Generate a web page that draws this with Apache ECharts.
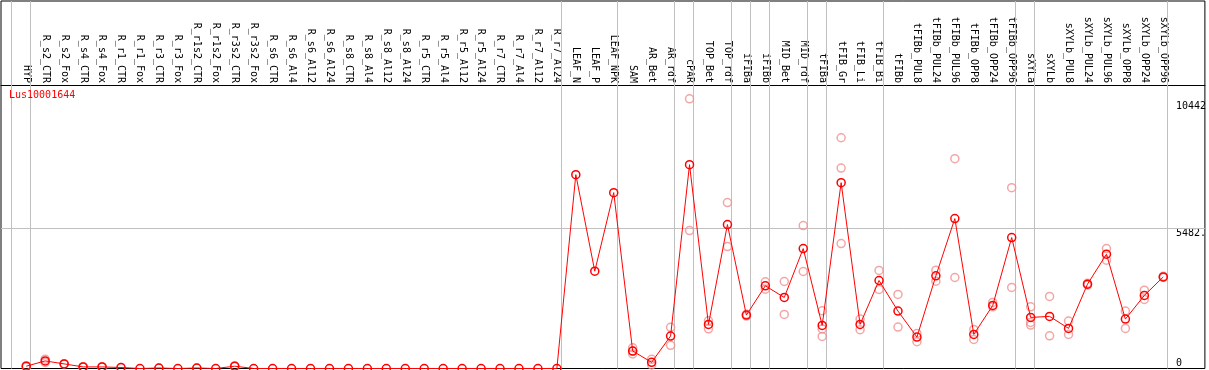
<!DOCTYPE html>
<html>
<head>
<meta charset="utf-8">
<script src="https://cdn.jsdelivr.net/npm/echarts@6/dist/echarts.min.js"></script>
<style>
  html, body { margin: 0; padding: 0; background: #fff; }
  #chart { width: 1209px; height: 370px; }
</style>
</head>
<body>
<div id="chart"></div>
<script>
const categories = [
  'HYP', 'R_s2_CTR', 'R_s2_Fox', 'R_s4_CTR', 'R_s4_Fox', 'R_r1_CTR', 'R_r1_Fox', 'R_r3_CTR', 'R_r3_Fox',
  'R_r1s2_CTR', 'R_r1s2_Fox', 'R_r3s2_CTR', 'R_r3s2_Fox', 'R_s6_CTR', 'R_s6_Al4', 'R_s6_Al12', 'R_s6_Al24',
  'R_s8_CTR', 'R_s8_Al4', 'R_s8_Al12', 'R_s8_Al24', 'R_r5_CTR', 'R_r5_Al4', 'R_r5_Al12', 'R_r5_Al24',
  'R_r7_CTR', 'R_r7_Al4', 'R_r7_Al12', 'R_r7_Al24', 'LEAF_N', 'LEAF_P', 'LEAF_NPK', 'SAM', 'AR_Bet', 'AR_rdf',
  'cPAR', 'TOP_Bet', 'TOP_rdf', 'iFIBa', 'iFIBb', 'MID_Bet', 'MID_rdf', 'tFIBa', 'tFIB_Gr', 'tFIB_Li', 'tFIB_Bi',
  'tFIBb', 'tFIBb_PUL8', 'tFIBb_PUL24', 'tFIBb_PUL96', 'tFIBb_OPP8', 'tFIBb_OPP24', 'tFIBb_OPP96',
  'sXYLa', 'sXYLb', 'sXYLb_PUL8', 'sXYLb_PUL24', 'sXYLb_PUL96', 'sXYLb_OPP8', 'sXYLb_OPP24', 'sXYLb_OPP96'
]

// mean per sample
const meanValues = [
  90, 296, 180, 62, 62, 39, 0, 20, 0, 20, 0, 90, 0, 0, 0, 0, 0,
  0, 0, 0, 0, 0, 0, 0, 0, 0, 0, 0, 0, 7574, 3803, 6872, 683, 242, 1268,
  7964, 1723, 5624, 2087, 3230, 2776, 4686, 1685, 7262, 1723, 3439,
  2243, 1229, 3620, 5857, 1333, 2464, 5117,
  1996, 2036, 1567, 3295, 4465, 1930, 2855, 3580
]

// replicates per sample (light circles)
const repValues = [
  [70, 110], [363, 234], [175, 185], [55, 70], [55, 70], [39], [], [20], [], [20], [], [85, 95], [], [], [], [], [],
  [], [], [], [], [], [], [], [], [], [], [], [], [], [], [], [811, 566, 683], [359, 137], [1607, 905],
  [10538, 5390], [1865, 1552], [6482, 4766], [2120, 2050], [3386, 3100], [3400, 2113], [5585, 3790],
  [2256, 1255, 1545], [9017, 7833, 4882], [1930, 1514], [3830, 3088],
  [2893, 1619], [1372, 1046], [3841, 3412], [8197, 3556], [1528, 1138], [2581, 2411], [7066, 3166],
  [2411, 1802, 1696], [2816, 1279], [1852, 1333], [3330, 3260], [4686, 4231], [2243, 1567], [3061, 2699], [3600, 3560]
]

// last sample index of each group (separator lines)
const groupEnds = [-1, 0, 28, 31, 34, 35, 37, 38, 39, 41, 42, 45, 52, 53, 60]

const yTickValues = [0, 5482, 10442]
const yTickLabels = ['0', '5482.', '10442']
const gridValue = 5482

const mono = 'DejaVu Sans Mono'

let meanData = meanValues.map((v, i) => [i, v])
let repData = []
repValues.forEach((reps, i) => {
  reps.forEach((v) => {
    repData.push([i, v])
  })
})

let yLabel = function (value) {
  let idx = yTickValues.indexOf(value)
  return idx >= 0 ? yTickLabels[idx] : ''
}

let myChart = echarts.init(document.getElementById('chart'))
myChart.setOption({
  animation: false,
  backgroundColor: '#fff',
  title: {
    text: 'Lus10001644',
    left: 9,
    top: 90,
    padding: 0,
    textStyle: {
      color: '#ff0000',
      fontFamily: mono,
      fontSize: 10,
      fontWeight: 'normal',
    },
  },
  grid: {
    left: 1,
    right: 1,
    top: 1,
    bottom: 1.5,
    show: true,
    borderColor: '#000',
    borderWidth: 1,
    backgroundColor: 'transparent',
  },
  xAxis: {
    type: 'value',
    position: 'top',
    offset: -84,
    min: -1.332,
    max: 62.195,
    axisLine: { show: true, onZero: false, lineStyle: { color: '#000', width: 1 } },
    axisTick: { show: false },
    splitLine: { show: false },
    axisLabel: {
      customValues: categories.map((c, i) => i),
      formatter: function (v) {
        return categories[v]
      },
      rotate: 90,
      margin: 2,
      color: '#000',
      fontFamily: mono,
      fontSize: 10,
    },
  },
  yAxis: [
    {
      type: 'value',
      position: 'right',
      min: 0,
      max: 14360,
      axisLine: { show: false, onZero: false },
      axisTick: { show: false },
      splitLine: { show: false },
      axisLabel: {
        customValues: [yTickValues[1], yTickValues[2]],
        formatter: yLabel,
        inside: true,
        margin: 29,
        align: 'left',
        verticalAlign: 'top',
        color: '#000',
        fontFamily: mono,
        fontSize: 10,
      },
    },
    {
      type: 'value',
      position: 'right',
      min: 0,
      max: 14360,
      axisLine: { show: false, onZero: false },
      axisTick: { show: false },
      splitLine: { show: false },
      axisLabel: {
        customValues: [yTickValues[0]],
        formatter: yLabel,
        inside: true,
        margin: 29,
        align: 'left',
        verticalAlign: 'bottom',
        color: '#000',
        fontFamily: mono,
        fontSize: 10,
      },
    },
  ],
  series: [
    {
      name: 'reps',
      type: 'scatter',
      z: 2,
      data: repData,
      symbol: 'circle',
      symbolSize: 8,
      itemStyle: {
        color: 'rgba(0,0,0,0)',
        borderColor: '#f09090',
        borderWidth: 1.5,
      },
      markLine: {
        silent: true,
        z: 1,
        symbol: 'none',
        animation: false,
        label: { show: false },
        lineStyle: { color: '#c0c0c0', width: 1, type: 'solid' },
        data: groupEnds.map((i) => ({ xAxis: i + 0.21 })).concat([{ yAxis: gridValue }]),
      },
    },
    {
      name: 'mean',
      type: 'line',
      z: 3,
      data: meanData,
      showAllSymbol: true,
      symbol: 'circle',
      symbolSize: 8,
      lineStyle: { color: '#ff0000', width: 1 },
      itemStyle: {
        color: 'rgba(0,0,0,0)',
        borderColor: '#ff0000',
        borderWidth: 1.5,
      },
    },
  ],
})
</script>
</body>
</html>
